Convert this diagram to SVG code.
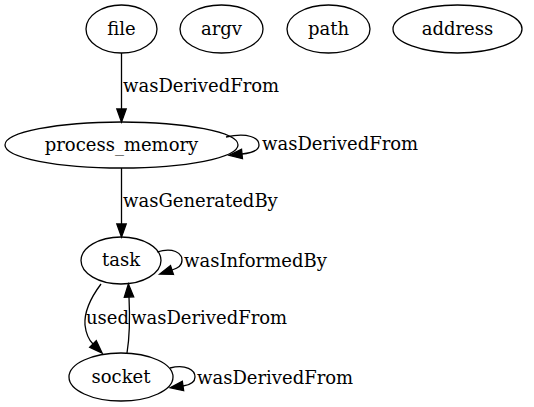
<svg xmlns="http://www.w3.org/2000/svg" width="534" height="407" viewBox="0 0 534 407">
<style>
.n ellipse{fill:none;stroke:#000;stroke-width:1.3}
text{font-family:"DejaVu Serif",serif;font-size:18px;fill:#000}
.n text{text-anchor:middle}
.e path{fill:none;stroke:#000;stroke-width:1.3;marker-end:url(#ah)}
</style>
<defs>
<marker id="ah" markerUnits="userSpaceOnUse" markerWidth="14" markerHeight="10" refX="0" refY="4.7" orient="auto" overflow="visible">
<path d="M0,0 L13,4.7 L0,9.4 Z" fill="#000" stroke="#000" stroke-width="1.3"/>
</marker>
</defs>
<rect width="534" height="407" fill="#fff"/>
<g id="edges" class="e">
<path d="M121.5,53 L121.5,109"/>
<text x="123" y="92">wasDerivedFrom</text>
<path d="M226,137 C248,132 259,138 259,145 C259,151 252,153 242,154"/>
<text x="262" y="150">wasDerivedFrom</text>
<path d="M121.5,168 L121.5,224"/>
<text x="123" y="207">wasGeneratedBy</text>
<path d="M157,252 C173,247 182,253 182,260 C182,266 178,268 172,270"/>
<text x="184" y="267">wasInformedBy</text>
<path d="M101,284 C92,296 84,311 85,325 C86,334 89,340 93,344"/>
<text x="86" y="324">used</text>
<path d="M127,353 C130,335 130,318 129,297"/>
<text x="131" y="324">wasDerivedFrom</text>
<path d="M170,368 C186,364 195,370 195,377 C195,383 190,385 183,386"/>
<text x="197" y="384">wasDerivedFrom</text>
</g>
<g id="file" class="n"><ellipse cx="121.5" cy="29" rx="35.5" ry="24"/><text x="121.5" y="35">file</text></g>
<g id="argv" class="n"><ellipse cx="221.5" cy="29" rx="41.5" ry="24"/><text x="221.5" y="35">argv</text></g>
<g id="path" class="n"><ellipse cx="328.5" cy="29" rx="41.5" ry="24"/><text x="328.5" y="35">path</text></g>
<g id="address" class="n"><ellipse cx="457.5" cy="29" rx="64.5" ry="24"/><text x="457.5" y="35">address</text></g>
<g id="process_memory" class="n"><ellipse cx="121.5" cy="145" rx="116.5" ry="23"/><text x="121.5" y="151">process_memory</text></g>
<g id="task" class="n"><ellipse cx="121" cy="260.5" rx="40" ry="23.5"/><text x="121" y="266">task</text></g>
<g id="socket" class="n"><ellipse cx="121" cy="377" rx="52" ry="24"/><text x="121" y="383">socket</text></g>
</svg>
